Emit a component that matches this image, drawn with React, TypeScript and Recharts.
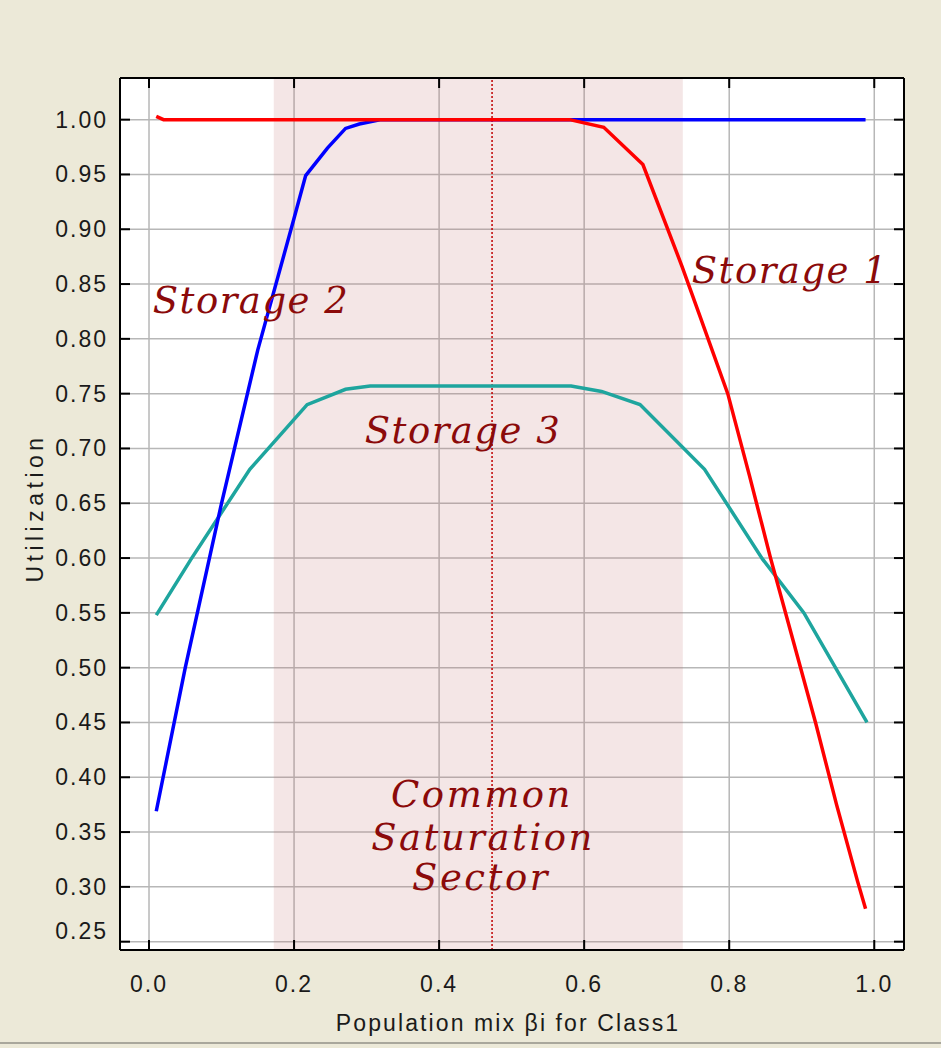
import {
  LineChart,
  Line,
  XAxis,
  YAxis,
  CartesianGrid,
  ReferenceArea,
  ReferenceLine,
} from 'recharts';

// values
const storage1X = [0.01, 0.02, 0.58, 0.627, 0.681, 0.735, 0.76, 0.798, 0.828, 0.857, 0.888, 0.919, 0.948, 0.977, 0.988];
const storage1Y = [1.003, 1.0, 1.0, 0.993, 0.959, 0.866, 0.82, 0.75, 0.675, 0.6, 0.525, 0.45, 0.375, 0.305, 0.28];

const storage2X = [0.01, 0.05, 0.1, 0.15, 0.2, 0.216, 0.246, 0.271, 0.29, 0.32, 0.988];
const storage2Y = [0.369, 0.5, 0.65, 0.79, 0.91, 0.949, 0.974, 0.992, 0.996, 1.0, 1.0];

const storage3X = [0.01, 0.058, 0.139, 0.218, 0.271, 0.305, 0.582, 0.624, 0.677, 0.766, 0.846, 0.903, 0.99];
const storage3Y = [0.548, 0.599, 0.681, 0.74, 0.754, 0.757, 0.757, 0.752, 0.74, 0.681, 0.599, 0.55, 0.45];

const xTicks = [0, 0.2, 0.4, 0.6, 0.8, 1.0];
const yTicks = [0.25, 0.3, 0.35, 0.4, 0.45, 0.5, 0.55, 0.6, 0.65, 0.7, 0.75, 0.8, 0.85, 0.9, 0.95, 1.0];

const sectorStart = 0.172;
const sectorEnd = 0.736;
const sectorMid = 0.473;

const toPoints = (xs: number[], ys: number[]) => xs.map((x, i) => ({ x, y: ys[i] }));
const storage1Data = toPoints(storage1X, storage1Y);
const storage2Data = toPoints(storage2X, storage2Y);
const storage3Data = toPoints(storage3X, storage3Y);

const BG = '#ece9d8';
const labelFont = '"Liberation Sans", Arial, sans-serif';
const noteFont = '"DejaVu Serif", serif';
const noteColor = '#8b0a0a';

const LeftTick = ({ x, y, payload }: any) => (
  <g>
    <line x1={x + 12} x2={x + 22} y1={y} y2={y} stroke="#000" strokeWidth={2} />
    <text
      x={x}
      y={y}
      dy={payload.value === yTicks[0] ? -3 : 8}
      textAnchor="end"
      fontFamily={labelFont}
      fontSize={23}
      letterSpacing={2}
      fill="#1a1a1a"
    >
      {Number(payload.value).toFixed(2)}
    </text>
  </g>
);

const RightTick = ({ x, y }: any) => (
  <line x1={x - 10} x2={x} y1={y} y2={y} stroke="#000" strokeWidth={2} />
);

const TopTick = ({ x, y }: any) => (
  <line x1={x} x2={x} y1={y} y2={y + 10} stroke="#000" strokeWidth={2} />
);

const BottomTick = ({ x, y, payload }: any) => (
  <g>
    <line x1={x} x2={x} y1={y - 10} y2={y} stroke="#000" strokeWidth={2} />
    <text
      x={x}
      y={y + 42}
      textAnchor="middle"
      fontFamily={labelFont}
      fontSize={23}
      letterSpacing={2}
      fill="#1a1a1a"
    >
      {Number(payload.value).toFixed(1)}
    </text>
  </g>
);

export default function App() {
  return (
    <div style={{ position: 'absolute', left: 0, top: 0, width: 941, height: 1048, background: BG, overflow: 'hidden' }}>
      <LineChart width={941} height={1048} margin={{ top: 77, right: 36, bottom: 38, left: 8 }}>
        <XAxis
          xAxisId="top"
          orientation="top"
          type="number"
          dataKey="x"
          domain={[-0.04, 1.041]}
          allowDataOverflow
          ticks={xTicks}
          interval={0}
          height={1}
          tickSize={0}
          tickMargin={0}
          tickLine={false}
          axisLine={{ stroke: '#000', strokeWidth: 2 }}
          tick={TopTick}
        />
        <XAxis
          type="number"
          dataKey="x"
          domain={[-0.04, 1.041]}
          allowDataOverflow
          ticks={xTicks}
          interval={0}
          height={60}
          tickSize={0}
          tickMargin={0}
          tickLine={false}
          axisLine={{ stroke: '#000', strokeWidth: 2 }}
          tick={BottomTick}
        />
        <YAxis
          type="number"
          domain={[0.2424, 1.038]}
          allowDataOverflow
          ticks={yTicks}
          interval={0}
          width={112}
          tickSize={0}
          tickMargin={12}
          tickLine={false}
          axisLine={{ stroke: '#000', strokeWidth: 2 }}
          tick={LeftTick}
        />
        <YAxis
          yAxisId="right"
          orientation="right"
          type="number"
          domain={[0.2424, 1.038]}
          allowDataOverflow
          ticks={yTicks}
          interval={0}
          width={1}
          tickSize={0}
          tickMargin={0}
          tickLine={false}
          axisLine={{ stroke: '#000', strokeWidth: 2 }}
          tick={RightTick}
        />
        <CartesianGrid stroke="#b7b7b7" strokeWidth={1.5} fill="#ffffff" />
        <ReferenceArea x1={sectorStart} x2={sectorEnd} fill="#be6969" fillOpacity={0.17} stroke="none" />
        <ReferenceLine x={sectorMid} stroke="#c00000" strokeWidth={1.5} strokeDasharray="2 2" />
        <Line data={storage3Data} dataKey="y" type="linear" stroke="#1ea59e" strokeWidth={3.5} dot={false} isAnimationActive={false} />
        <Line data={storage2Data} dataKey="y" type="linear" stroke="#0000ff" strokeWidth={3.5} dot={false} isAnimationActive={false} />
        <Line data={storage1Data} dataKey="y" type="linear" stroke="#ff0000" strokeWidth={3.5} dot={false} isAnimationActive={false} />
      </LineChart>

      <svg width={941} height={1048} style={{ position: 'absolute', left: 0, top: 0, pointerEvents: 'none' }}>
        <text x={508} y={1031} textAnchor="middle" fontFamily={labelFont} fontSize={23} letterSpacing={2.1} fill="#1a1a1a">
          Population mix βi for Class1
        </text>
        <text
          x={35}
          y={508}
          transform="rotate(-90 35 508)"
          textAnchor="middle"
          dy={8}
          fontFamily={labelFont}
          fontSize={23}
          letterSpacing={4.5}
          fill="#1a1a1a"
        >
          Utilization
        </text>
        <g fontFamily={noteFont} fontStyle="italic" fontSize={37} fill={noteColor} textAnchor="middle" letterSpacing={1.5}>
          <text x={251} y={313}>Storage 2</text>
          <text x={790} y={283}>Storage 1</text>
          <text x={463} y={443}>Storage 3</text>
          <text x={482} y={807} letterSpacing={2.5}>Common</text>
          <text x={483} y={850} letterSpacing={2.5}>Saturation</text>
          <text x={481} y={890} letterSpacing={2.5}>Sector</text>
        </g>
      </svg>
      <div style={{ position: 'absolute', left: 0, top: 1042, width: 941, height: 2, background: '#a9a79c' }} />
    </div>
  );
}
